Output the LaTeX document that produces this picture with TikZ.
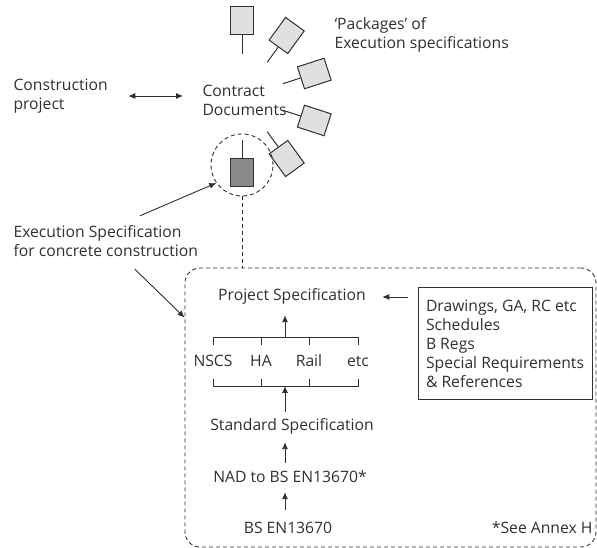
\documentclass[tikz,border=0pt]{standalone}
\usepackage{fontspec}
\setmainfont{Open Sans}
\usetikzlibrary{arrows.meta,positioning,calc}
\definecolor{ink}{HTML}{303030}
\definecolor{pale}{HTML}{E0E0E0}
\definecolor{deep}{HTML}{8A8A8A}

\begin{document}
\begin{tikzpicture}[
  x=1pt, y=1pt,
  every node/.style={text=ink, font=\fontsize{15.7}{19}\selectfont},
  tag/.style={align=left, anchor=west},
  stack/.style={text height=11pt, text depth=3pt, inner ysep=0pt},
  pkg/.style={draw=ink, line width=1pt, fill=pale, minimum width=23pt, minimum height=28pt, inner sep=0pt},
  stem/.style={draw=ink, line width=1pt},
  line/.style={draw=ink, line width=0.9pt},
  link/.style={draw=ink, line width=0.9pt, dash pattern=on 4pt off 3pt},
  arr/.style={-{Latex[length=7pt,width=6pt]}, draw=ink, line width=0.9pt},
  dbl/.style={{Latex[length=7pt,width=6pt]}-{Latex[length=7pt,width=6pt]}, draw=ink, line width=0.9pt}
]
  \useasboundingbox (0,0) rectangle (597,548);

  % top part: project, contract documents and the packages
  \node[tag] (proj) at (10,452) {Construction\\project};
  \node[tag] (cdocs) at (199,448) {Contract\\Documents};
  \node[tag] (packs) at (331,513) {‘Packages’ of\\Execution specifications};
  \draw[dbl, shorten <=17pt, shorten >=16pt] (proj.east) -- (proj.east -| cdocs.west);

  \coordinate (hub) at (242,451);
  \foreach \a [count=\i] in {90,54,18,-18,-54} {
    \node[pkg, rotate=\a-90] (p\i) at ($(hub)+(\a:76)$) {};
    \coordinate (s\i) at ($(hub)+(\a:43)$);
    \draw[stem] (s\i) -- (p\i);
  }
  \node[pkg, fill=deep] (exe) at ($(hub)+(-90:76)$) {};
  \coordinate (s6) at ($(hub)+(-90:43)$);
  \draw[stem] (s6) -- (exe);
  \node[circle, link, minimum size=62pt, inner sep=0pt] (ring) at (242,383) {};

  \node[tag] (exspec) at (10,307) {Execution Specification\\for concrete construction};
  \draw[arr] ([xshift=34pt,yshift=6pt]exspec.north) -- (ring.215);

  % the execution specification itself
  \node[link, rounded corners=15pt, minimum width=411pt, minimum height=279pt] (spec) at (390.5,140.5) {};
  \draw[link] (ring.south) -- (ring.south |- spec.north);
  \draw[arr] ([xshift=29pt,yshift=-9pt]exspec.south) -- ([yshift=-50pt]spec.north west);

  \node[stack] (pspec) at (292,251) {Project Specification};
  \node[draw=ink, line width=1pt, minimum width=174pt, minimum height=112pt, align=left] (info) at (505,204)
    {Drawings, GA, RC etc\\Schedules\\B Regs\\Special Requirements\\\& References};
  \draw[arr, shorten <=10pt, shorten >=13pt] (info.west |- pspec) -- (pspec.east);

  \node[stack] (c1) at (213,185) {NSCS};
  \node[stack] (c2) at (261,185) {HA};
  \node[stack] (c3) at (309,185) {Rail};
  \node[stack] (c4) at (358,185) {etc};
  \draw[line] ([yshift=18pt]c1.center) -- ++(0,8) -| ([yshift=18pt]c4.center);
  \draw[line] ([yshift=-16pt]c1.center) -- ++(0,-7) -| ([yshift=-16pt]c4.center);
  \foreach \c in {c2,c3} {
    \draw[line] ([yshift=18pt]\c.center) -- ++(0,8);
    \draw[line] ([yshift=-16pt]\c.center) -- ++(0,-7);
  }

  \node[stack] (sspec) at (292,121) {Standard Specification};
  \node[stack] (nad) at (290,69) {NAD to BS EN13670*};
  \node[stack] (bsen) at (288,18) {BS EN13670};
  \node[stack, anchor=east] (annex) at (596,18) {*See Annex H};

  \coordinate (ax) at (285,0);
  \coordinate (topbar) at (285,211);
  \coordinate (botbar) at (285,162);
  \draw[arr, shorten >=11pt] (topbar) -- (topbar |- pspec.south);
  \draw[arr, shorten <=8pt] (sspec.north -| ax) -- (botbar);
  \draw[arr, shorten <=9pt, shorten >=8pt] (nad.north -| ax) -- (sspec.south -| ax);
  \draw[arr, shorten <=13pt, shorten >=6pt] (bsen.north -| ax) -- (nad.south -| ax);
\end{tikzpicture}
\end{document}
